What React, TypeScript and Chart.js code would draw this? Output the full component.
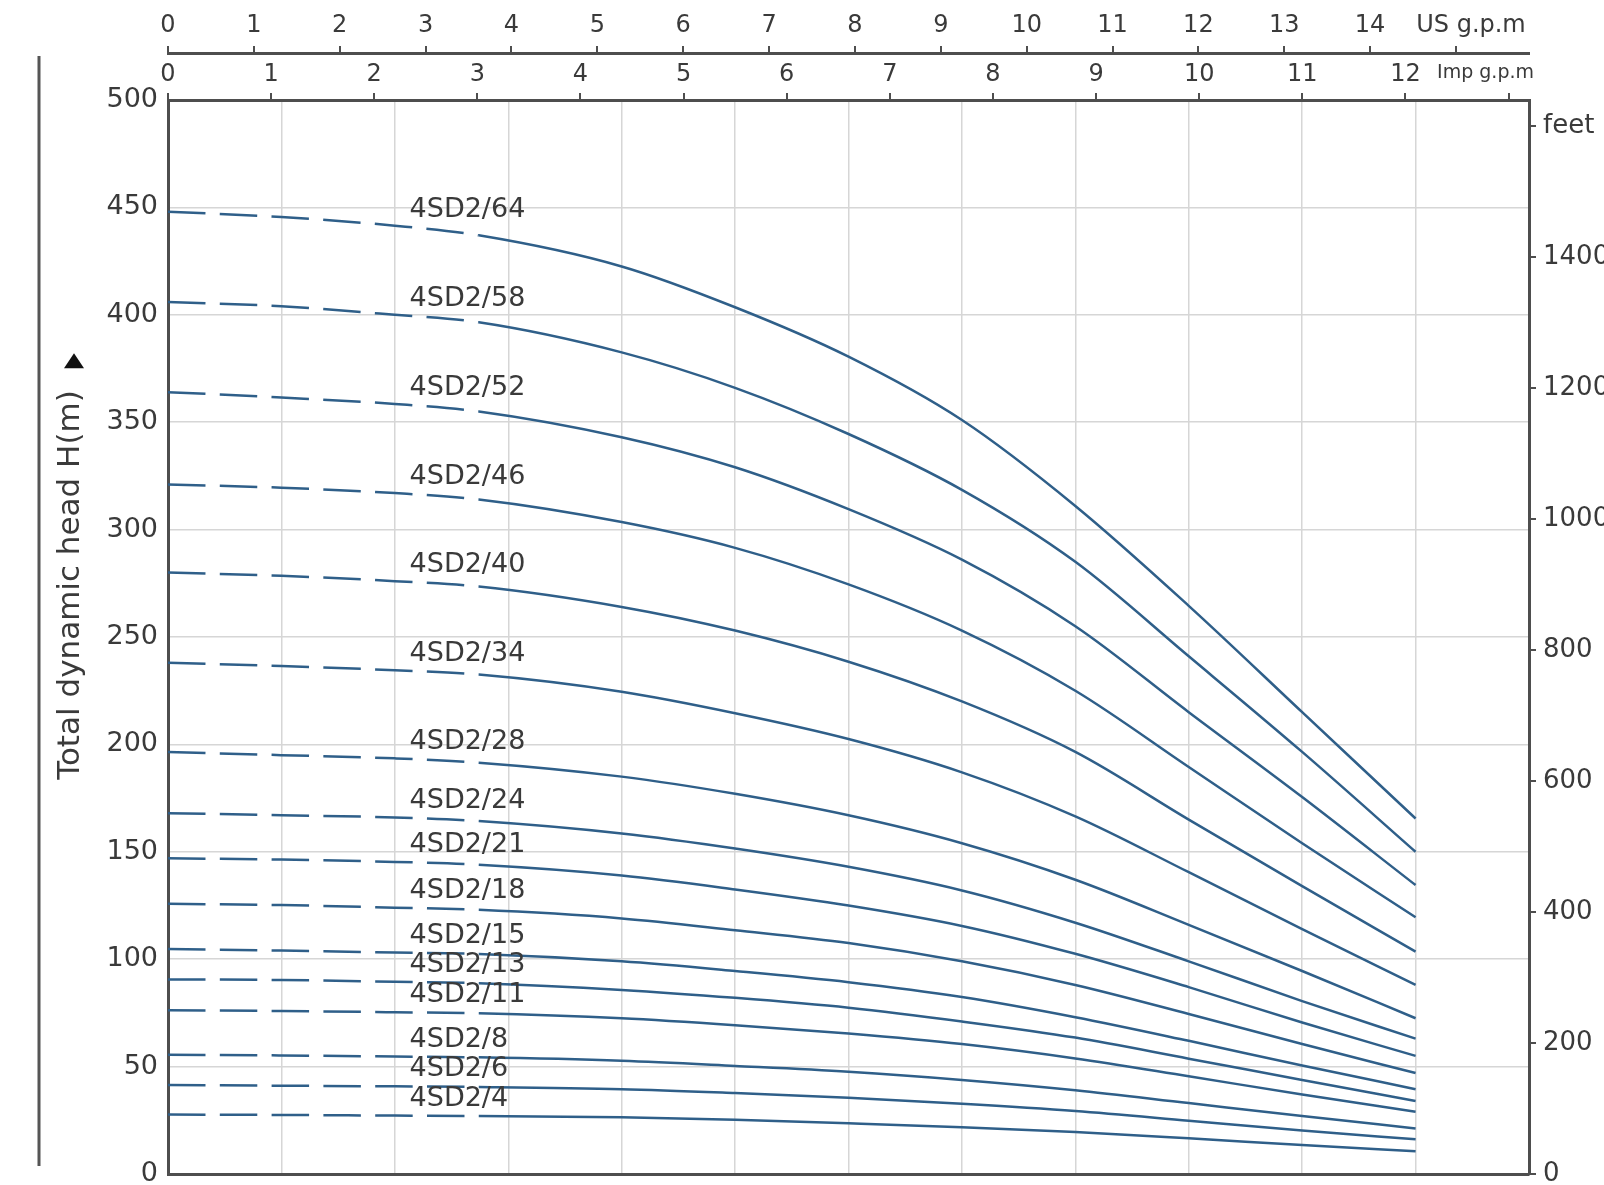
import React, { useEffect, useRef } from 'react';
import { Chart, registerables } from 'chart.js';

Chart.register(...registerables);

// ---- data (flow in l/min, head in m) ----
const FLOW_LPM = [0, 5, 10, 13.7, 20, 25, 30, 35, 40, 45, 50, 55];
const DASH_END_LPM = 13.7;

const MODELS = [
  '4SD2/64', '4SD2/58', '4SD2/52', '4SD2/46', '4SD2/40', '4SD2/34', '4SD2/28', '4SD2/24',
  '4SD2/21', '4SD2/18', '4SD2/15', '4SD2/13', '4SD2/11', '4SD2/8', '4SD2/6', '4SD2/4',
];

const H_64 = [448, 445.5, 441.5, 437, 422.5, 403.5, 380.5, 351, 311, 264.5, 215, 165.5];
const H_58 = [406, 404, 400, 396.5, 382.5, 366, 344.5, 318.5, 285, 241, 196.5, 150];
const H_52 = [364, 361.5, 358.5, 355, 343, 329, 309.5, 286, 255, 215, 175.5, 134.5];
const H_46 = [321, 319.5, 317, 314, 303.5, 291.5, 274.5, 253, 225, 189.5, 154, 119.5];
const H_40 = [280, 278.5, 276, 273.5, 264, 253, 238.5, 220, 196.5, 165, 134, 103.5];
const H_34 = [238, 236.5, 234.5, 232.5, 224.5, 214.5, 202.5, 187, 166.5, 140.5, 114, 88];
const H_28 = [196.5, 195, 193.5, 191.5, 185, 177, 167, 154, 137, 116, 94.5, 72.5];
const H_24 = [168, 167, 166, 164.3, 158.5, 151.5, 143, 132, 117, 99, 80.5, 63];
const H_21 = [147, 146.4, 145.3, 144, 139, 132.5, 125, 115.5, 102.5, 87, 70.5, 55];
const H_18 = [125.8, 125.2, 124, 123, 119, 113.5, 107.5, 99, 88, 74.5, 60.5, 47];
const H_15 = [104.7, 104, 103.1, 102.4, 99, 94.5, 89.3, 82.4, 73, 62, 50.5, 39.5];
const H_13 = [90.6, 90.3, 89.5, 88.8, 85.7, 82, 77.4, 71, 63.5, 53.7, 43.8, 34];
const H_11 = [76.2, 75.9, 75.3, 74.8, 72.5, 69.3, 65.4, 60.5, 53.8, 45.5, 37, 29];
const H_8 = [55.5, 55.2, 54.7, 54.3, 52.7, 50.3, 47.6, 43.8, 39, 33, 27, 21.2];
const H_6 = [41.4, 41.1, 40.8, 40.5, 39.5, 37.7, 35.5, 32.7, 29.3, 24.8, 20.2, 16.2];
const H_4 = [27.7, 27.5, 27.2, 27, 26.4, 25.2, 23.6, 21.8, 19.5, 16.6, 13.5, 10.6];

const HEADS = [H_64, H_58, H_52, H_46, H_40, H_34, H_28, H_24, H_21, H_18, H_15, H_13, H_11, H_8, H_6, H_4];

// axis ranges / unit conversions
const X_MAX_LPM = 60;
const X_GRID_STEP_LPM = 5;
const Y_MAX_M = 500;
const Y_STEP_M = 50;
const FT_STEP = 200;
const L_PER_US_GAL = 3.78541;
const L_PER_IMP_GAL = 4.54609;
const FT_PER_M = 3.28084;
const LABEL_AT_LPM = 10.65;

const Y_TITLE = 'Total dynamic head H(m)';
const US_UNIT = 'US g.p.m';
const IMP_UNIT = 'Imp g.p.m';
const FT_UNIT = 'feet';

// ---- styles ----
const FONT = '"DejaVu Sans", "Liberation Sans", Arial, sans-serif';
const TEXT = '#3a3a3a';
const AXIS = '#4e4e4e';
const GRID = '#d6d6d6';
const CURVE = '#2f5f89';

const lastIsUnit = (unit: string) => (value: any, index: number, ticks: any[]) =>
  index === ticks.length - 1 ? unit : String(value);
const lastEmpty = (value: any, index: number, ticks: any[]) =>
  index === ticks.length - 1 ? '' : String(value);

const decorPlugin = {
  id: 'decor',
  afterDatasetsDraw(chart: any) {
    const { ctx, scales } = chart;
    const xs = scales.x;
    const ys = scales.y;
    ctx.save();
    ctx.font = `27px ${FONT}`;
    ctx.fillStyle = TEXT;
    ctx.textAlign = 'left';
    ctx.textBaseline = 'middle';
    chart.data.datasets.forEach((ds: any) => {
      const pts = ds.data;
      let yv = pts[0].y;
      for (let i = 0; i < pts.length - 1; i++) {
        if (pts[i].x <= LABEL_AT_LPM && pts[i + 1].x >= LABEL_AT_LPM) {
          const t = (LABEL_AT_LPM - pts[i].x) / (pts[i + 1].x - pts[i].x);
          yv = pts[i].y + t * (pts[i + 1].y - pts[i].y);
          break;
        }
      }
      ctx.fillText(ds.label, xs.getPixelForValue(LABEL_AT_LPM), ys.getPixelForValue(yv) - 17);
    });
    ctx.restore();
  },
  afterDraw(chart: any) {
    const { ctx, chartArea, scales } = chart;
    ctx.save();
    ctx.fillStyle = TEXT;

    // unit label of the US g.p.m axis
    const us = scales.xUS;
    ctx.font = `24px ${FONT}`;
    ctx.textAlign = 'center';
    ctx.textBaseline = 'middle';
    const usLast = us.ticks[us.ticks.length - 1].value;
    ctx.fillText(US_UNIT, us.getPixelForValue(usLast) + 15, us.bottom - 27);

    // unit label of the Imp g.p.m axis
    const imp = scales.xImp;
    ctx.font = `19px ${FONT}`;
    ctx.textAlign = 'right';
    ctx.fillText(IMP_UNIT, chartArea.right + 5, imp.bottom - 27);

    // y title, rotated, with arrow
    const tx = chartArea.left - 97;
    const ty = (chartArea.top + chartArea.bottom) / 2 - 52;
    ctx.font = `31px ${FONT}`;
    const w = ctx.measureText(Y_TITLE).width;
    ctx.save();
    ctx.translate(tx, ty);
    ctx.rotate(-Math.PI / 2);
    ctx.textAlign = 'center';
    ctx.textBaseline = 'middle';
    ctx.fillText(Y_TITLE, 0, 0);
    ctx.restore();
    const cy = ty - w / 2 - 29;
    ctx.fillStyle = '#111';
    ctx.beginPath();
    ctx.moveTo(tx + 3, cy - 8);
    ctx.lineTo(tx + 13, cy + 7);
    ctx.lineTo(tx - 7, cy + 7);
    ctx.closePath();
    ctx.fill();

    // vertical rule at far left
    ctx.strokeStyle = '#555';
    ctx.lineWidth = 3;
    ctx.beginPath();
    ctx.moveTo(chartArea.left - 129, chartArea.top - 44);
    ctx.lineTo(chartArea.left - 129, chartArea.bottom - 8);
    ctx.stroke();
    ctx.restore();
  },
};

function fixWidth(w: number) {
  return (scale: any) => {
    scale.width = w;
    scale.paddingTop = 0;
    scale.paddingBottom = 0;
  };
}
function fixHeight(h: number) {
  return (scale: any) => {
    scale.height = h;
    scale.paddingLeft = 0;
    scale.paddingRight = 0;
  };
}

export default function App() {
  const ref = useRef<HTMLCanvasElement | null>(null);

  useEffect(() => {
    if (!ref.current) return;
    Chart.defaults.font.family = FONT;
    Chart.defaults.color = TEXT;

    const datasets = MODELS.map((name, i) => ({
      label: name,
      data: FLOW_LPM.map((q, j) => ({ x: q, y: HEADS[i][j] })),
      borderColor: CURVE,
      borderWidth: 2.5,
      pointRadius: 0,
      fill: false,
      cubicInterpolationMode: 'monotone' as const,
      segment: {
        borderDash: (c: any) => (c.p1.parsed.x <= DASH_END_LPM + 1e-9 ? [37.5, 14.3] : []),
      },
    }));

    const chart = new Chart(ref.current, {
      type: 'line',
      data: { datasets },
      plugins: [decorPlugin],
      options: {
        animation: false,
        responsive: false,
        devicePixelRatio: 1,
        layout: { padding: 0 },
        plugins: { legend: { display: false }, tooltip: { enabled: false } },
        scales: {
          x: {
            type: 'linear',
            position: 'bottom',
            min: 0,
            max: X_MAX_LPM,
            ticks: { display: false, stepSize: X_GRID_STEP_LPM },
            grid: { color: GRID, lineWidth: 1.5, drawTicks: false },
            border: { color: AXIS, width: 3 },
            afterFit: fixHeight(11),
          },
          xImp: {
            type: 'linear',
            position: 'top',
            weight: 0,
            min: 0,
            max: X_MAX_LPM / L_PER_IMP_GAL,
            ticks: {
              stepSize: 1,
              includeBounds: false,
              autoSkip: false,
              maxRotation: 0,
              padding: 4,
              font: { size: 24 },
              color: TEXT,
              callback: lastEmpty,
            },
            grid: { drawOnChartArea: false, drawTicks: true, tickLength: 7, color: AXIS, lineWidth: 2 },
            border: { color: AXIS, width: 3 },
            afterFit: fixHeight(47),
          },
          xUS: {
            type: 'linear',
            position: 'top',
            weight: 1,
            min: 0,
            max: X_MAX_LPM / L_PER_US_GAL,
            ticks: {
              stepSize: 1,
              includeBounds: false,
              autoSkip: false,
              maxRotation: 0,
              padding: 6,
              font: { size: 24 },
              color: TEXT,
              callback: lastEmpty,
            },
            grid: { drawOnChartArea: false, drawTicks: true, tickLength: 7, color: AXIS, lineWidth: 2 },
            border: { color: AXIS, width: 3 },
            afterFit: fixHeight(53),
          },
          y: {
            type: 'linear',
            position: 'left',
            min: 0,
            max: Y_MAX_M,
            ticks: { stepSize: Y_STEP_M, padding: 10, font: { size: 27 }, color: TEXT },
            grid: { color: GRID, lineWidth: 1.5, drawTicks: false },
            border: { color: AXIS, width: 3 },
            afterFit: fixWidth(168),
          },
          y2: {
            type: 'linear',
            position: 'right',
            min: 0,
            max: Y_MAX_M * FT_PER_M,
            ticks: {
              stepSize: FT_STEP,
              includeBounds: false,
              padding: 7,
              font: { size: 26 },
              color: TEXT,
              callback: lastIsUnit(FT_UNIT),
            },
            grid: { drawOnChartArea: false, drawTicks: true, tickLength: 7, color: AXIS, lineWidth: 2 },
            border: { color: AXIS, width: 3 },
            afterFit: fixWidth(75),
          },
        },
      },
    } as any);

    return () => chart.destroy();
  }, []);

  return (
    <div style={{ position: 'absolute', left: 0, top: 0, width: 1604, height: 1185, background: '#fff', overflow: 'hidden' }}>
      <canvas ref={ref} width={1604} height={1185} style={{ width: 1604, height: 1185, display: 'block' }} />
    </div>
  );
}
